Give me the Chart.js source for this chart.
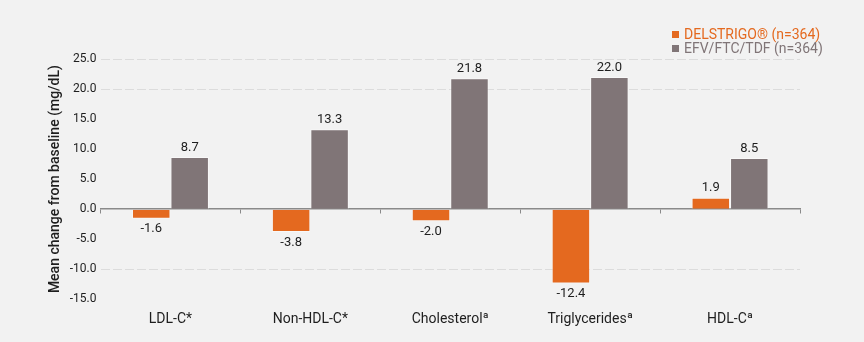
<!DOCTYPE html>
<html>
<head>
<meta charset="utf-8">
<script src="https://cdn.jsdelivr.net/npm/chart.js@4/dist/chart.umd.min.js"></script>
<style>
  html, body { margin: 0; padding: 0; background: #f2f2f2; }
  #wrap { position: relative; width: 864px; height: 342px; }
  #legend { position: absolute; left: 672px; top: 27px; font-family: Roboto, sans-serif; font-size: 14px; line-height: 14px; }
  #legend div { white-space: nowrap; }
  #legend span.box { display: inline-block; width: 7px; height: 7px; margin-right: 5px; vertical-align: 1px; }
</style>
</head>
<body>
<div id="wrap">
  <canvas id="chart" width="864" height="342"></canvas>
  <div id="legend"></div>
</div>
<script>
// Daten
const categories = ['LDL-C*', 'Non-HDL-C*', 'Cholesterolª', 'Triglyceridesª', 'HDL-Cª'];
const seriesNames = ['DELSTRIGO® (n=364)', 'EFV/FTC/TDF (n=364)'];
const delstrigo = [-1.6, -3.8, -2.0, -12.4, 1.9];
const efvFtcTdf = [8.7, 13.3, 21.8, 22.0, 8.5];
const yMin = -15, yMax = 25, yStep = 5;
const gridValues = [25, 20, -10];   // nur diese Linien sind im Original gestrichelt sichtbar

const colors = ['#e4691f', '#807577'];
const font = 'Roboto, sans-serif';

// Legende als HTML (zwei Zeilen rechts oben)
const legend = document.getElementById('legend');
seriesNames.forEach((name, i) => {
  const row = document.createElement('div');
  row.style.color = colors[i];
  row.innerHTML = '<span class="box" style="background:' + colors[i] + '"></span>' + name;
  legend.appendChild(row);
});

// Werte über/unter den Balken
const valueLabels = {
  id: 'valueLabels',
  afterDatasetsDraw(chart) {
    const ctx = chart.ctx;
    ctx.save();
    ctx.font = '13px ' + font;
    ctx.fillStyle = '#1e1e1e';
    ctx.textAlign = 'center';
    chart.data.datasets.forEach((ds, i) => {
      chart.getDatasetMeta(i).data.forEach((bar, j) => {
        const v = ds.data[j];
        if (v >= 0) {
          ctx.textBaseline = 'bottom';
          ctx.fillText(v.toFixed(1), bar.x, bar.y - 3);
        } else {
          ctx.textBaseline = 'top';
          ctx.fillText(v.toFixed(1), bar.x, bar.y + 4);
        }
      });
    });
    ctx.restore();
  }
};

new Chart(document.getElementById('chart'), {
  type: 'bar',
  data: {
    labels: categories,
    datasets: [
      { label: seriesNames[0], data: delstrigo, backgroundColor: colors[0], borderColor: 'rgba(255,255,255,0.45)', borderWidth: 1 },
      { label: seriesNames[1], data: efvFtcTdf, backgroundColor: colors[1], borderColor: 'rgba(255,255,255,0.45)', borderWidth: 1 }
    ]
  },
  options: {
    responsive: false,
    animation: false,
    categoryPercentage: 0.55,
    barPercentage: 1.0,
    layout: { padding: { top: 59, bottom: 2, left: 47, right: 64 } },
    plugins: {
      legend: { display: false },
      tooltip: { enabled: false }
    },
    scales: {
      x: {
        type: 'category',
        position: { y: 0 },
        offset: true,
        grid: { display: true, drawOnChartArea: false, drawTicks: true, tickLength: 4, offset: true, color: '#8a8a8a' },
        ticks: { display: false },
        border: { display: true, color: '#8a8a8a', width: 1.5 }
      },
      xLabels: {
        type: 'category',
        position: 'bottom',
        labels: categories,
        offset: true,
        grid: { display: false, drawTicks: false, tickLength: 0 },
        border: { display: false },
        ticks: { color: '#1e1e1e', font: { family: font, size: 14 }, padding: 12, maxRotation: 0 }
      },
      y: {
        min: yMin,
        max: yMax,
        ticks: {
          stepSize: yStep,
          color: '#1e1e1e',
          font: { family: font, size: 12 },
          padding: 4,
          callback: v => v.toFixed(1)
        },
        grid: {
          drawTicks: false,
          color: c => gridValues.includes(c.tick.value) ? '#dcdcdc' : 'rgba(0,0,0,0)'
        },
        border: { display: false, dash: [9, 3] },
        title: {
          display: true,
          text: 'Mean change from baseline (mg/dL)',
          color: '#1e1e1e',
          font: { family: font, size: 14, weight: '500' },
          padding: { top: 0, bottom: 2 }
        }
      }
    }
  },
  plugins: [valueLabels]
});
</script>
</body>
</html>
